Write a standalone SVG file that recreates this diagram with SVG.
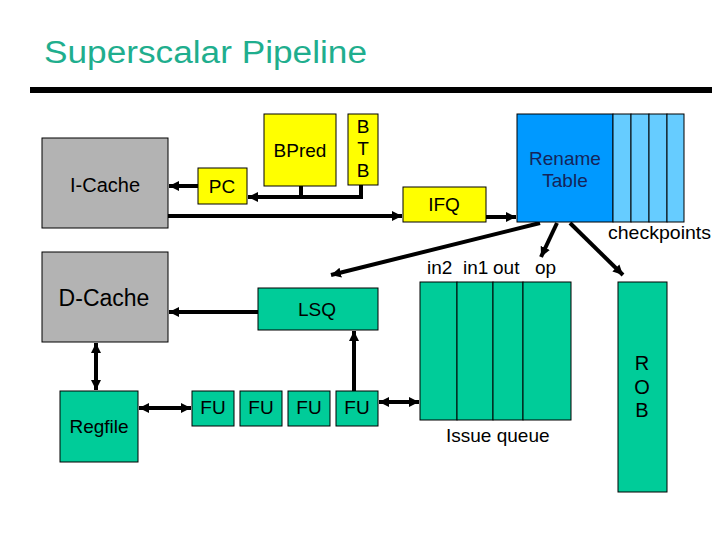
<svg xmlns="http://www.w3.org/2000/svg" width="720" height="540" viewBox="0 0 720 540">
<defs>
<style>
text{font-family:"Liberation Sans",Arial,sans-serif;font-size:19px;fill:#000}
.c{text-anchor:middle}
.box{stroke:#000;stroke-width:1}
.gray{fill:#b3b3b3}
.yel{fill:#ffff00}
.grn{fill:#00cc99}
.blu{fill:#0099ff}
.lblu{fill:#66ccff}
.ln{stroke:#000;stroke-width:4;fill:none}
.a{marker-end:url(#ah)}
.b{marker-start:url(#as);marker-end:url(#ah)}
</style>
<marker id="ah" markerUnits="userSpaceOnUse" markerWidth="12" markerHeight="12" refX="10" refY="6" orient="auto">
<path d="M0,1 L10,6 L0,11 Z" fill="#000"/>
</marker>
<marker id="as" markerUnits="userSpaceOnUse" markerWidth="12" markerHeight="12" refX="0" refY="6" orient="auto">
<path d="M10,1 L0,6 L10,11 Z" fill="#000"/>
</marker>
</defs>
<rect width="720" height="540" fill="#fff"/>
<text x="44" y="63" style="font-size:31px;fill:#1fae8e" textLength="323" lengthAdjust="spacingAndGlyphs">Superscalar Pipeline</text>
<rect x="30" y="87" width="682" height="6" fill="#000"/>

<g id="connectors">
<line class="ln a" x1="198" y1="186" x2="169" y2="186"/>
<polyline class="ln a" points="361,185 361,197 248,197"/>
<line class="ln" x1="301" y1="186" x2="301" y2="197"/>
<line class="ln a" x1="168" y1="216" x2="402" y2="216"/>
<line class="ln a" x1="486" y1="217" x2="516" y2="217"/>
<line class="ln a" x1="540" y1="223" x2="331" y2="275"/>
<line class="ln a" x1="557" y1="223" x2="541" y2="257"/>
<line class="ln a" x1="570" y1="223" x2="623" y2="275"/>
<line class="ln a" x1="258" y1="312" x2="169" y2="312"/>
<line class="ln b" x1="96" y1="343" x2="96" y2="390"/>
<line class="ln b" x1="139" y1="408" x2="191" y2="408"/>
<line class="ln a" x1="354" y1="391" x2="354" y2="331"/>
<line class="ln b" x1="379" y1="402" x2="419" y2="402"/>
</g>

<g id="icache"><rect class="box gray" x="42" y="138" width="126" height="90"/><text class="c" x="105" y="192" style="font-size:20px">I-Cache</text></g>
<g id="pc"><rect class="box yel" x="198" y="168" width="49" height="36"/><text class="c" x="222" y="193">PC</text></g>
<g id="bpred"><rect class="box yel" x="264" y="114" width="72" height="72"/><text class="c" x="300" y="157">BPred</text></g>
<g id="btb"><rect class="box yel" x="348" y="114" width="30" height="71"/><text class="c" x="363" y="133">B</text><text class="c" x="363" y="155">T</text><text class="c" x="363" y="177">B</text></g>
<g id="ifq"><rect class="box yel" x="403" y="187" width="83" height="35"/><text class="c" x="444" y="211">IFQ</text></g>
<g id="rename"><rect class="box blu" x="517" y="114" width="96" height="108"/><text class="c" x="565" y="165" style="fill:#15245a">Rename</text><text class="c" x="565" y="187" style="fill:#15245a">Table</text></g>
<g id="checkpoints"><rect class="box lblu" x="613" y="114" width="18" height="108"/><rect class="box lblu" x="631" y="114" width="18" height="108"/><rect class="box lblu" x="649" y="114" width="18" height="108"/><rect class="box lblu" x="667" y="114" width="17" height="108"/><text x="608" y="239" textLength="103" lengthAdjust="spacingAndGlyphs">checkpoints</text></g>
<g id="dcache"><rect class="box gray" x="42" y="252" width="126" height="90"/><text class="c" x="104" y="306" style="font-size:23px">D-Cache</text></g>
<g id="lsq"><rect class="box grn" x="258" y="288" width="120" height="42"/><text class="c" x="317" y="316">LSQ</text></g>
<g id="regfile"><rect class="box grn" x="60" y="391" width="78" height="71"/><text class="c" x="99" y="433">Regfile</text></g>
<g id="fu1"><rect class="box grn" x="192" y="391" width="42" height="35"/><text class="c" x="213" y="414">FU</text></g>
<g id="fu2"><rect class="box grn" x="240" y="391" width="42" height="35"/><text class="c" x="261" y="414">FU</text></g>
<g id="fu3"><rect class="box grn" x="288" y="391" width="42" height="35"/><text class="c" x="309" y="414">FU</text></g>
<g id="fu4"><rect class="box grn" x="336" y="391" width="42" height="35"/><text class="c" x="357" y="414">FU</text></g>
<g id="issuequeue">
<rect class="box grn" x="420" y="282" width="37" height="138"/>
<rect class="box grn" x="457" y="282" width="36" height="138"/>
<rect class="box grn" x="493" y="282" width="30" height="138"/>
<rect class="box grn" x="523" y="282" width="48" height="138"/>
<text x="427" y="274">in2</text><text x="463" y="274">in1</text><text x="493" y="274">out</text><text x="535" y="274">op</text>
<text x="446" y="442">Issue queue</text>
</g>
<g id="rob"><rect class="box grn" x="618" y="282" width="49" height="210"/><text class="c" x="642" y="370" style="font-size:20px">R</text><text class="c" x="642" y="394" style="font-size:20px">O</text><text class="c" x="642" y="417" style="font-size:20px">B</text></g>
</svg>
